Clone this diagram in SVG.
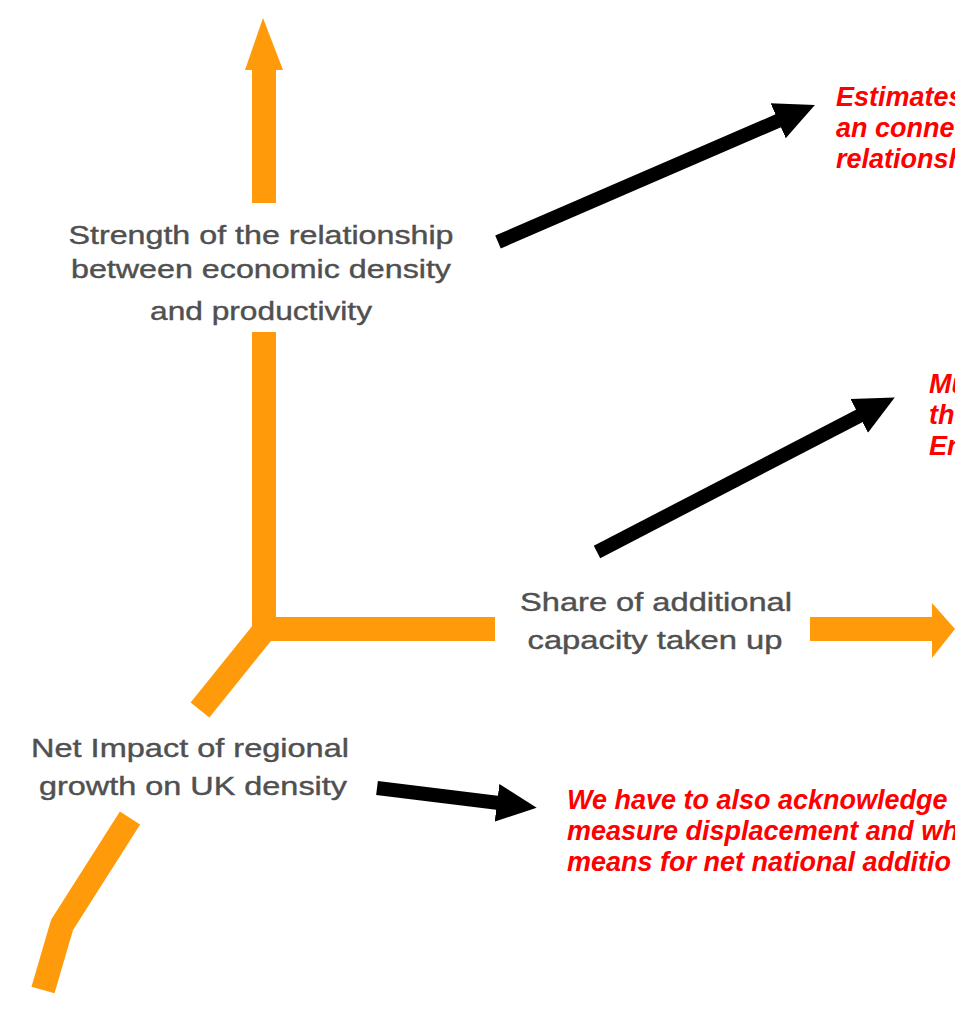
<svg xmlns="http://www.w3.org/2000/svg" width="955" height="1019" viewBox="0 0 955 1019">
<style>
.axis{fill:none;stroke:#FF9A0A;stroke-width:24;stroke-linecap:butt;stroke-linejoin:round}
.axh{fill:#FF9A0A}
.lbl{font-family:"Liberation Sans",Arial,sans-serif;font-size:26px;fill:#505050;stroke:#505050;stroke-width:0.4;text-anchor:middle}
.note{font-family:"Liberation Sans",Arial,sans-serif;font-size:27px;font-weight:bold;font-style:italic;fill:#FF0000}
.conn{stroke:#000;stroke-width:14;fill:none}
</style>
<defs>
<marker id="ah" viewBox="0 0 40 40" refX="2" refY="20" markerWidth="40" markerHeight="40" orient="auto" markerUnits="userSpaceOnUse">
<path d="M0,1 L40,20 L0,39 z" fill="#000"/>
</marker>
</defs>
<rect width="955" height="1019" fill="#fff"/>
<g id="axes">
<path class="axis" d="M264,68 V203"/>
<path class="axh" d="M263,18 L283,70 L245,70 z"/>
<path class="axis" d="M264,332 V640"/>
<path class="axis" d="M256,629 H495"/>
<path class="axis" d="M810,629 H935"/>
<path class="axh" d="M932,603 L955,629 L932,658 z"/>
<path class="axis" d="M266,628 L200,710"/>
<path class="axis" d="M130,818 L62,925 L43,990"/>
</g>
<g id="node-strength">
<text class="lbl" x="261" y="244" textLength="385" lengthAdjust="spacingAndGlyphs">Strength of the relationship</text>
<text class="lbl" x="261" y="278" textLength="380" lengthAdjust="spacingAndGlyphs">between economic density</text>
<text class="lbl" x="261" y="320" textLength="222" lengthAdjust="spacingAndGlyphs">and productivity</text>
</g>
<g id="node-share">
<text class="lbl" x="656" y="611" textLength="272" lengthAdjust="spacingAndGlyphs">Share of additional</text>
<text class="lbl" x="655" y="649" textLength="255" lengthAdjust="spacingAndGlyphs">capacity taken up</text>
</g>
<g id="node-net">
<text class="lbl" x="190" y="757" textLength="318" lengthAdjust="spacingAndGlyphs">Net Impact of regional</text>
<text class="lbl" x="193" y="795" textLength="308" lengthAdjust="spacingAndGlyphs">growth on UK density</text>
</g>
<g id="note-estimates">
<text class="note" x="836" y="106">Estimates</text>
<text class="note" x="836" y="137">an conne</text>
<text class="note" x="836" y="168">relationsh</text>
</g>
<g id="note-mu">
<text class="note" x="929" y="393">Mu</text>
<text class="note" x="929" y="424">th</text>
<text class="note" x="929" y="455">En</text>
</g>
<g id="note-displacement">
<text class="note" x="567" y="809">We have to also acknowledge</text>
<text class="note" x="567" y="840">measure displacement and wh</text>
<text class="note" x="567" y="871">means for net national additio</text>
</g>
<g id="connectors">
<path class="conn" marker-end="url(#ah)" d="M498,242 L780,120"/>
<path class="conn" marker-end="url(#ah)" d="M597,552 L861,415"/>
<path class="conn" marker-end="url(#ah)" d="M377,788 L499,803"/>
</g>
</svg>
